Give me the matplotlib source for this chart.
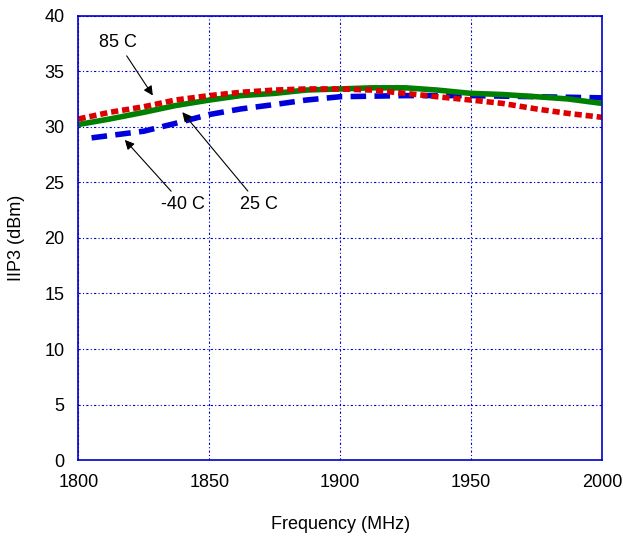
import matplotlib
matplotlib.use('Agg')
import matplotlib.pyplot as plt

plt.rcParams['font.family'] = ['Liberation Sans', 'DejaVu Sans']

# frequencia (MHz)
freq = [1800, 1812, 1825, 1837, 1850, 1862, 1875, 1887, 1900,
        1912, 1925, 1937, 1950, 1962, 1975, 1987, 2000]
iip3_25c = [30.2, 30.7, 31.3, 31.9, 32.4, 32.8, 33.0, 33.3, 33.4,
            33.5, 33.5, 33.3, 33.0, 32.9, 32.7, 32.5, 32.1]
iip3_85c = [30.7, 31.3, 31.8, 32.4, 32.8, 33.1, 33.3, 33.4, 33.4,
            33.3, 33.0, 32.7, 32.4, 32.1, 31.6, 31.2, 30.85]

freq_m40 = [1805, 1815, 1825, 1837, 1850, 1862, 1875, 1887, 1900,
            1925, 1950, 1975, 2000]
iip3_m40c = [29.0, 29.3, 29.6, 30.3, 31.1, 31.6, 32.0, 32.4, 32.7,
             32.8, 32.8, 32.7, 32.6]

x_ticks = [1800, 1850, 1900, 1950, 2000]
y_ticks = [0, 5, 10, 15, 20, 25, 30, 35, 40]

azul = '#0000cc'

fig = plt.figure(figsize=(6.23, 5.37), dpi=100)
ax = fig.add_axes([0.126, 0.143, 0.840, 0.828])

ax.plot(freq_m40, iip3_m40c, color='#0000dd', lw=4, linestyle=(0, (2.8, 1.5)))
ax.plot(freq, iip3_25c, color='#008000', lw=4, solid_capstyle='butt')
ax.plot(freq, iip3_85c, color='#dd0000', lw=4, linestyle=(0, (1.3, 0.7)))

ax.set_xlim(1800, 2000)
ax.set_ylim(0, 40)
ax.set_xticks(x_ticks)
ax.set_yticks(y_ticks)
ax.grid(True, color=azul, linestyle=(0, (2, 2, 1, 2)), linewidth=0.8)
for s in ax.spines.values():
    s.set_color(azul)
    s.set_linewidth(1.2)
ax.tick_params(length=0, labelsize=13, pad=10)

ax.set_xlabel('Frequency (MHz)', fontsize=13, labelpad=18)
ax.set_ylabel('IIP3 (dBm)', fontsize=13, labelpad=14)

seta = dict(arrowstyle='-|>', color='black', lw=0.8, mutation_scale=14)
ax.annotate('85 C', xy=(1829, 32.6), xytext=(1815, 37.6), fontsize=13,
            ha='center', va='center', arrowprops=seta)
ax.annotate('-40 C', xy=(1817, 29.0), xytext=(1840, 23.0), fontsize=13,
            ha='center', va='center', arrowprops=seta)
ax.annotate('25 C', xy=(1839, 31.5), xytext=(1869, 23.0), fontsize=13,
            ha='center', va='center', arrowprops=seta)

fig.savefig('out.png', dpi=100)
